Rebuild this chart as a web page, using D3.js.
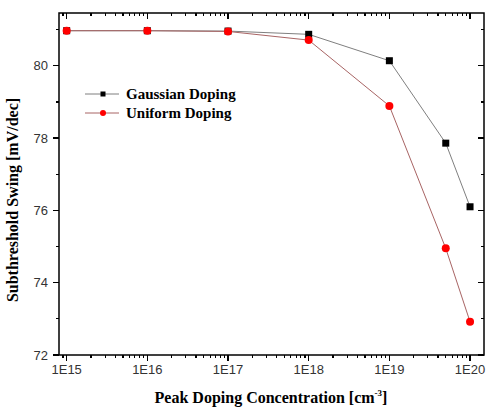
<!DOCTYPE html>
<html>
<head>
<meta charset="utf-8">
<script src="https://cdn.jsdelivr.net/npm/d3@7"></script>
<style>
  body { margin: 0; background: #fff; }
  .ticklabel { font-family: "Liberation Sans", Arial, sans-serif; font-size: 13px; fill: #333; }
  .labeltext { font-family: "Liberation Serif", "Times New Roman", serif; font-size: 16px; font-weight: bold; fill: #000; }
  .legendtext { font-family: "Liberation Serif", "Times New Roman", serif; font-size: 15px; font-weight: bold; fill: #000; }
</style>
</head>
<body>
<script>
// data
var doping = [1e15, 1e16, 1e17, 1e18, 1e19, 5e19, 1e20];
var gaussian = [80.97, 80.97, 80.96, 80.87, 80.14, 77.86, 76.10];
var uniform = [80.97, 80.97, 80.95, 80.71, 78.89, 74.95, 72.92];
var xTickLabels = ["1E15", "1E16", "1E17", "1E18", "1E19", "1E20"];
var yTickValues = [72, 74, 76, 78, 80];

var margin = {top: 13, right: 2, bottom: 54, left: 59},
    width = 486 - margin.left - margin.right,
    height = 409 - margin.top - margin.bottom;

var svg = d3.select("body").append("svg")
    .attr("width", 486)
    .attr("height", 409)
  .append("g")
    .attr("transform", "translate(" + margin.left + "," + margin.top + ")");

var x = d3.scaleLog().domain([Math.pow(10, 14.905), Math.pow(10, 20.173)]).range([0, width]);
var y = d3.scaleLinear().domain([72, 81.46]).range([height, 0]);

// tick positions
var majorX = xTickLabels.map(function(d, i) { return Math.pow(10, 15 + i); });
var minorX = [];
for (var e = 14; e <= 20; e++) {
  for (var m = 2; m <= 9; m++) {
    var v = m * Math.pow(10, e);
    if (x(v) >= 0 && x(v) <= width) minorX.push(v);
  }
}
var minorY = d3.range(73, 82, 2);

function tick(x1, y1, x2, y2) {
  svg.append("line")
    .attr("x1", x1).attr("y1", y1).attr("x2", x2).attr("y2", y2)
    .attr("stroke", "#000").attr("stroke-width", 1.2)
    .attr("shape-rendering", "crispEdges");
}

// bottom and top ticks
majorX.forEach(function(v) {
  tick(x(v), height, x(v), height + 6);
  tick(x(v), 0, x(v), 6);
});
minorX.forEach(function(v) {
  tick(x(v), height, x(v), height + 3);
  tick(x(v), 0, x(v), 3);
});
// left and right ticks
yTickValues.forEach(function(v) {
  tick(0, y(v), -6, y(v));
  tick(width, y(v), width - 6, y(v));
});
minorY.forEach(function(v) {
  tick(0, y(v), -3, y(v));
  tick(width, y(v), width - 3, y(v));
});

// frame
svg.append("rect")
  .attr("x", 0).attr("y", 0)
  .attr("width", width).attr("height", height)
  .attr("fill", "none").attr("stroke", "#000").attr("stroke-width", 1.5);

// tick labels
svg.selectAll(".xlab")
    .data(majorX)
  .enter().append("text")
    .attr("class", "ticklabel")
    .attr("x", function(d) { return x(d); })
    .attr("y", height + 19)
    .style("text-anchor", "middle")
    .text(function(d, i) { return xTickLabels[i]; });

svg.selectAll(".ylab")
    .data(yTickValues)
  .enter().append("text")
    .attr("class", "ticklabel")
    .attr("x", -11)
    .attr("y", function(d) { return y(d); })
    .attr("dy", "0.35em")
    .style("text-anchor", "end")
    .text(function(d) { return d; });

// series
var series = [
  {name: "Gaussian Doping", values: gaussian, line: "#7f7f7f", fill: "#000", shape: "square"},
  {name: "Uniform Doping", values: uniform, line: "#a86464", fill: "#ff0000", shape: "circle"}
];

var line = d3.line()
    .x(function(d) { return x(d[0]); })
    .y(function(d) { return y(d[1]); });

function marker(g, s, cx, cy) {
  if (s.shape === "square") {
    g.append("rect")
      .attr("x", cx - 3.5).attr("y", cy - 3.5)
      .attr("width", 7).attr("height", 7)
      .attr("fill", s.fill);
  } else {
    g.append("circle")
      .attr("cx", cx).attr("cy", cy).attr("r", 4)
      .attr("fill", s.fill);
  }
}

series.forEach(function(s) {
  var pts = doping.map(function(d, i) { return [d, s.values[i]]; });
  svg.append("path")
    .datum(pts)
    .attr("fill", "none")
    .attr("stroke", s.line)
    .attr("stroke-width", 1)
    .attr("d", line);
  pts.forEach(function(p) { marker(svg, s, x(p[0]), y(p[1])); });
});

// legend
series.forEach(function(s, i) {
  var ly = 81 + i * 19;
  svg.append("line")
    .attr("x1", 26).attr("y1", ly).attr("x2", 60).attr("y2", ly)
    .attr("stroke", s.line).attr("stroke-width", 1);
  var g = svg.append("g");
  if (s.shape === "square") {
    g.append("rect").attr("x", 44 - 2.5).attr("y", ly - 2.5).attr("width", 5).attr("height", 5).attr("fill", s.fill);
  } else {
    g.append("circle").attr("cx", 44).attr("cy", ly).attr("r", 3).attr("fill", s.fill);
  }
  svg.append("text")
    .attr("class", "legendtext")
    .attr("x", 67)
    .attr("y", ly)
    .attr("dy", "0.35em")
    .text(s.name);
});

// axis titles
var xt = svg.append("text")
    .attr("class", "labeltext")
    .attr("x", 212)
    .attr("y", height + 48)
    .style("text-anchor", "middle");
xt.append("tspan").text("Peak Doping Concentration [cm");
xt.append("tspan").attr("dy", -7).style("font-size", "9px").text("-3");
xt.append("tspan").attr("dy", 7).text("]");

svg.append("text")
    .attr("class", "labeltext")
    .attr("transform", "rotate(-90)")
    .attr("x", -(200 - margin.top))
    .attr("y", -41)
    .style("text-anchor", "middle")
    .text("Subthreshold Swing [mV/dec]");
</script>
</body>
</html>
